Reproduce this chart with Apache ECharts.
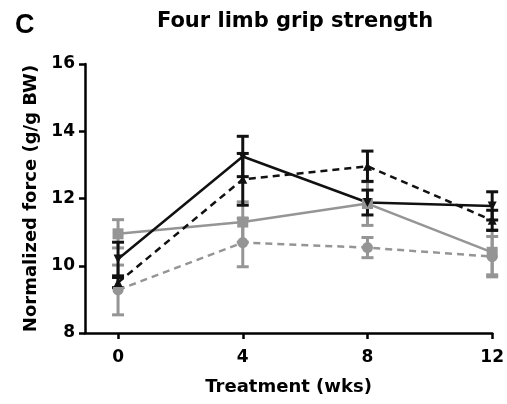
<!DOCTYPE html>
<html><head><meta charset="utf-8">
<script src="https://cdn.jsdelivr.net/npm/echarts@6/dist/echarts.min.js"></script>
<style>html,body{margin:0;padding:0;background:#fff}#c{width:507px;height:404px}</style>
</head><body><div id="c"></div>
<script>
const weeks = [0, 4, 8, 12];
const xTicks = [0, 4, 8, 12];
const blackSolid = [10.2, 13.25, 11.88, 11.78];
const blackSolidErr = [0.5, 0.6, 0.37, 0.42];
const blackDashed = [9.5, 12.57, 12.96, 11.35];
const blackDashedErr = [0.15, 0.77, 0.45, 0.3];
const graySolid = [10.95, 11.3, 11.85, 10.4];
const graySolidErr = [0.42, 0.6, 0.65, 0.67];
const grayDashed = [9.28, 10.69, 10.54, 10.27];
const grayDashedErr = [0.74, 0.72, 0.3, 0.6];

const BLACK = '#111111', GRAY = '#959595';
const chart = echarts.init(document.getElementById('c'));
const font = 'DejaVu Sans, sans-serif';

function pts(vals){ return weeks.map((w,i)=>[w, vals[i]]); }
function errData(vals, errs){ return weeks.map((w,i)=>[w, vals[i]-errs[i], vals[i]+errs[i]]); }
function errSeries(vals, errs, color){
  return {
    type:'custom', data: errData(vals, errs), z: 1, silent:true,
    renderItem(params, api){
      const x = api.value(0);
      const lo = api.coord([x, api.value(1)]);
      const hi = api.coord([x, api.value(2)]);
      const w = 6;
      const st = {stroke: color, lineWidth: 3};
      return {type:'group', children:[
        {type:'line', shape:{x1:lo[0],y1:lo[1],x2:hi[0],y2:hi[1]}, style:st},
        {type:'line', shape:{x1:lo[0]-w,y1:lo[1],x2:lo[0]+w,y2:lo[1]}, style:st},
        {type:'line', shape:{x1:hi[0]-w,y1:hi[1],x2:hi[0]+w,y2:hi[1]}, style:st}
      ]};
    }
  };
}
function lineSeries(vals, color, dashed, symbol, rot, size){
  return {
    type:'line', data: pts(vals), z: 3,
    symbol: symbol, symbolSize: size, symbolRotate: rot,
    itemStyle:{color: color},
    lineStyle:{color: color, width: 2.5, type: dashed ? [7,5] : 'solid'}
  };
}

chart.setOption({
  animation:false,
  title:[
    {text:'C', left:10, top:7, textStyle:{fontFamily:'Liberation Sans, Arial, sans-serif', fontSize:27, fontWeight:'bold', color:'#000'}},
    {text:'Four limb grip strength', left:290, textAlign:'center', top:6, textStyle:{fontFamily:font, fontSize:21, fontWeight:'bold', color:'#000'}}
  ],
  grid:{left:85, right:14, top:64, bottom:71},
  xAxis:{
    type:'value', min:-1.06, max:12,
    name:'Treatment (wks)', nameLocation:'middle', nameGap:45,
    nameTextStyle:{fontFamily:font, fontSize:18, fontWeight:'bold', color:'#000'},
    axisLine:{lineStyle:{color:'#000', width:2.5}},
    axisTick:{show:true, length:6, lineStyle:{color:'#000', width:2.5}, customValues: xTicks},
    axisLabel:{fontFamily:font, fontSize:17, fontWeight:'bold', color:'#000', margin:16, customValues: xTicks},
    splitLine:{show:false}
  },
  yAxis:{
    type:'value', min:8, max:16, interval:2,
    name:'Normalized force (g/g BW)', nameLocation:'middle', nameGap:42,
    nameTextStyle:{fontFamily:font, fontSize:18, fontWeight:'bold', color:'#000'},
    axisLine:{show:true, onZero:false, lineStyle:{color:'#000', width:2.5}},
    axisTick:{show:true, length:6, lineStyle:{color:'#000', width:2.5}},
    axisLabel:{fontFamily:font, fontSize:17, fontWeight:'bold', color:'#000', margin:10},
    splitLine:{show:false}
  },
  series:[
    errSeries(grayDashed, grayDashedErr, GRAY),
    errSeries(graySolid, graySolidErr, GRAY),
    errSeries(blackDashed, blackDashedErr, BLACK),
    errSeries(blackSolid, blackSolidErr, BLACK),
    lineSeries(grayDashed, GRAY, true, 'circle', 0, 11),
    lineSeries(graySolid, GRAY, false, 'rect', 0, 11),
    lineSeries(blackDashed, BLACK, true, 'triangle', 0, 9),
    lineSeries(blackSolid, BLACK, false, 'triangle', 180, 9)
  ]
});
</script></body></html>
